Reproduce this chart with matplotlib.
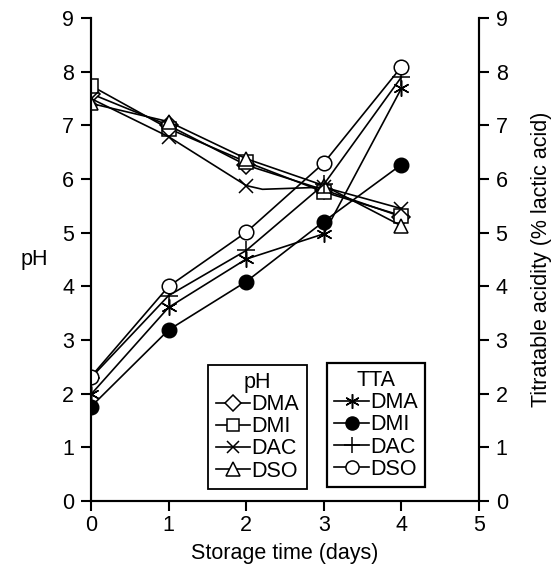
import numpy as np
import matplotlib
matplotlib.use("Agg")
import matplotlib.pyplot as plt

plt.rcParams['font.family'] = ['Liberation Sans', 'DejaVu Sans']

days = [0, 1, 2, 3, 4]
names = ['DMA', 'DMI', 'DAC', 'DSO']

# pH (left axis)
ph_dma = [7.59, 7.0, 6.26, 5.8, 5.3]
ph_dmi = [7.74, 6.94, 6.32, 5.76, 5.32]
ph_dac_x = [0, 1, 2, 2.21, 3, 4]
ph_dac = [7.5, 6.79, 5.88, 5.81, 5.85, 5.45]
ph_dso = [7.41, 7.07, 6.38, 5.88, 5.13]

# titratable acidity (right axis)
tta_dma = [1.99, 3.61, 4.51, 4.98, 7.69]
tta_dmi = [1.76, 3.19, 4.09, 5.21, 6.27]
tta_dac = [2.3, 3.83, 4.67, 5.9, 7.9]
tta_dso = [2.32, 4.0, 5.01, 6.3, 8.09]

fig = plt.figure(figsize=(5.55, 5.65), dpi=100)
ax = fig.add_axes([0.164, 0.113, 0.699, 0.855])
ax2 = ax.twinx()

fs = 15.5
ms = 10.5
lw = 1.2
kw = dict(color='black', lw=lw, mfc='white', mec='black', mew=1.1)

h1, = ax.plot(days, ph_dma, marker='D', ms=ms*0.85, **kw)
h2, = ax.plot(days, ph_dmi, marker='s', ms=ms*0.95, **kw)
h3, = ax.plot(ph_dac_x, ph_dac, marker='x', ms=ms*0.9, markevery=[0, 1, 2, 4, 5], **kw)
h4, = ax.plot(days, ph_dso, marker='^', ms=ms, **kw)

g1, = ax2.plot(days, tta_dma, marker=(6, 2, 0), ms=ms*1.1, **kw)
g2, = ax2.plot(days, tta_dmi, marker='o', ms=ms, color='black', lw=lw, mfc='black', mec='black')
g3, = ax2.plot(days, tta_dac, marker='+', ms=ms*1.2, **kw)
g4, = ax2.plot(days, tta_dso, marker='o', ms=ms, **kw)

for a in (ax, ax2):
    a.set_ylim(0, 9)
    a.set_yticks(range(0, 10))
    a.spines['top'].set_visible(False)
    for s in a.spines.values():
        s.set_linewidth(1.5)
    a.tick_params(direction='out', length=7, width=1.5, labelsize=fs, pad=5)
ax.set_xlim(0, 5)
ax.set_xticks(range(0, 6))
ax.tick_params(axis='x', pad=3)

ax.set_xlabel('Storage time (days)', fontsize=fs, labelpad=5)
ax.set_ylabel('pH', fontsize=fs, rotation=0, labelpad=20, va='center')
ax2.set_ylabel('Titratable acidity (% lactic acid)', fontsize=fs, labelpad=17)

leg_kw = dict(loc='lower left', frameon=True, fancybox=False, edgecolor='black',
              fontsize=fs, title_fontsize=fs, handlelength=1.6, handletextpad=0.05,
              labelspacing=0.05, borderpad=0.35, borderaxespad=0, framealpha=1,
              markerscale=0.9)
leg1 = ax2.legend([h1, h2, h3, h4], names, title='pH', bbox_to_anchor=(0.302, 0.025), **leg_kw)
leg1.get_frame().set_linewidth(1.3)
ax2.add_artist(leg1)
leg2 = ax2.legend([g1, g2, g3, g4], names, title='TTA', bbox_to_anchor=(0.608, 0.029), **leg_kw)
leg2.get_frame().set_linewidth(1.6)

fig.savefig('out.png', dpi=100)
